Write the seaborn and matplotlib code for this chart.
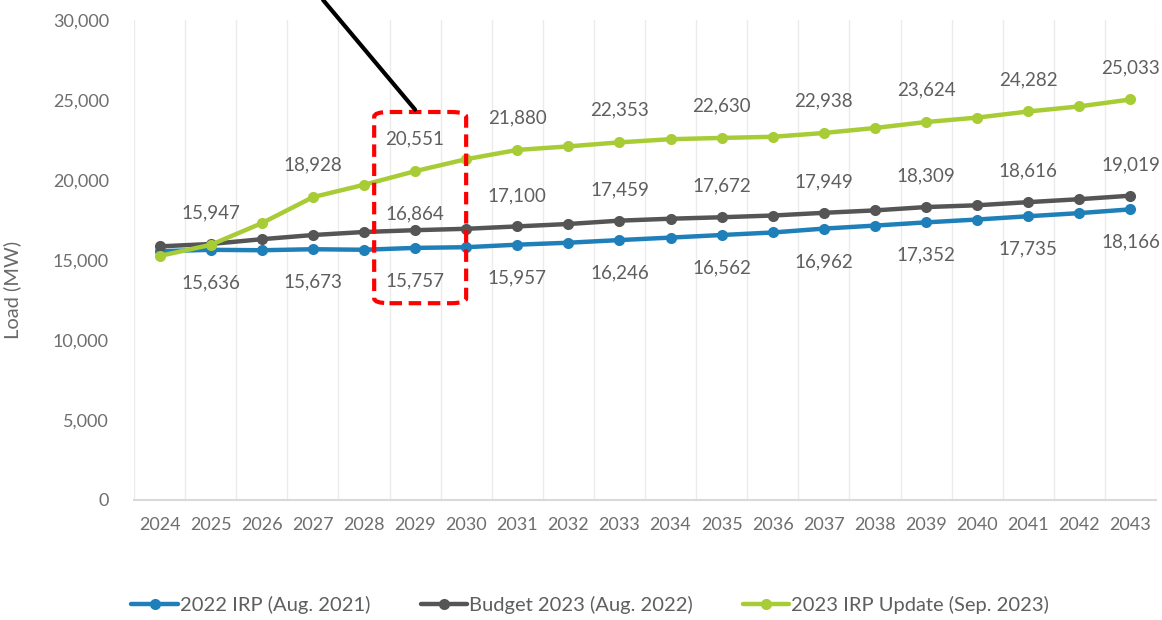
import numpy as np
import pandas as pd
import matplotlib
matplotlib.use("Agg")
import matplotlib.pyplot as plt
import seaborn as sns
from matplotlib.patches import FancyBboxPatch
from matplotlib.lines import Line2D

years = [str(y) for y in range(2024, 2044)]

irp_2022 = [15550, 15636, 15610, 15673, 15640, 15757, 15800, 15957, 16080, 16246,
            16400, 16562, 16720, 16962, 17150, 17352, 17530, 17735, 17930, 18166]
budget_2023 = [15850, 16000, 16300, 16560, 16750, 16864, 16950, 17100, 17250, 17459,
               17580, 17672, 17780, 17949, 18100, 18309, 18420, 18616, 18800, 19019]
irp_2023 = [15250, 15947, 17300, 18928, 19700, 20551, 21300, 21880, 22100, 22353,
            22550, 22630, 22700, 22938, 23250, 23624, 23900, 24282, 24600, 25033]

series_names = ["2022 IRP (Aug. 2021)", "Budget 2023 (Aug. 2022)", "2023 IRP Update (Sep. 2023)"]
series_values = [irp_2022, budget_2023, irp_2023]
series_colors = ["#1f80b9", "#555555", "#a8cc35"]

# Years whose values get printed next to the markers, per series
labelled_years = [
    years[1::2],
    years[5::2],
    years[1::2],
]
label_offsets_px = [-33, 31, 32]

sns.set_theme(style="white")
plt.rcParams["font.family"] = ["Lato", "DejaVu Sans"]

fig = plt.figure(figsize=(11.62, 6.2), dpi=100)
ax = fig.add_axes([134 / 1162, 1 - 500 / 620, 1022 / 1162, 480 / 620])

frames = []
for name, vals in zip(series_names, series_values):
    frames.append(pd.DataFrame({"year": years, "x": np.arange(len(years)), "load": vals, "series": name}))
df = pd.concat(frames, ignore_index=True)

for name, color in zip(series_names, series_colors):
    sub = df[df["series"] == name]
    sns.lineplot(data=sub, x="x", y="load", ax=ax, color=color, linewidth=3.2,
                 marker="o", markersize=8, markeredgewidth=0, label=name, legend=False)

text_color = "#5f5f5f"
px_to_pt = 72 / fig.dpi
for name, vals, ylist, off in zip(series_names, series_values, labelled_years, label_offsets_px):
    for yr in ylist:
        i = years.index(yr)
        dy = off
        if name.startswith("Budget") and yr == "2029":
            dy = 16
        ax.annotate(f"{vals[i]:,}", (i, vals[i]), xytext=(0, dy * px_to_pt),
                    textcoords="offset points", ha="center", va="center",
                    fontsize=13.5, color=text_color, annotation_clip=False)

ax.set_xlim(-0.5, len(years) - 0.5)
ax.set_ylim(0, 30000)
ax.set_xticks(np.arange(len(years)))
ax.set_xticklabels(years)
ax.set_xticks(np.arange(-0.5, len(years), 1), minor=True)
ax.set_yticks(np.arange(0, 30001, 5000))
ax.set_yticklabels([f"{v:,}" for v in range(0, 30001, 5000)])
ax.tick_params(axis="both", which="both", length=0, labelsize=13, colors="#6e6e6e")
ax.tick_params(axis="x", pad=12)
ax.tick_params(axis="y", pad=18)
ax.grid(False)
ax.grid(axis="x", which="minor", color="#ebebeb", linewidth=1.0)
for side in ["left", "right", "top"]:
    ax.spines[side].set_visible(False)
ax.spines["bottom"].set_color("#d9d9d9")
ax.spines["bottom"].set_linewidth(1.5)
ax.set_xlabel("")
ax.set_ylabel("Load (MW)", fontsize=14.5, color="#6a6a6a")
ax.yaxis.set_label_coords((21 - 134) / 1022, (500 - 290) / 480)

# Highlight around 2029 with a pointer line
box = FancyBboxPatch((4.2, 12300), 1.8, 11950,
                     boxstyle="round,pad=0,rounding_size=0.3",
                     mutation_aspect=1000,
                     fill=False, edgecolor="#ff0000", linewidth=3, linestyle=(0, (3, 1.6)),
                     clip_on=False, zorder=6)
ax.add_patch(box)
ax.add_line(Line2D([3.2, 5.0], [31250, 24400], color="black", linewidth=3,
                   clip_on=False, zorder=6))

handles = [Line2D([0], [0], color=c, linewidth=3.2, marker="o", markersize=8, markeredgewidth=0)
           for c in series_colors]
fig.legend(handles, series_names, loc="center", bbox_to_anchor=(0.508, 0.024), ncol=3,
           frameon=False, fontsize=14.5, handlelength=2.3, handletextpad=0.1,
           columnspacing=2.5, labelcolor="#5f5f5f")

fig.savefig("out.png", dpi=100)
